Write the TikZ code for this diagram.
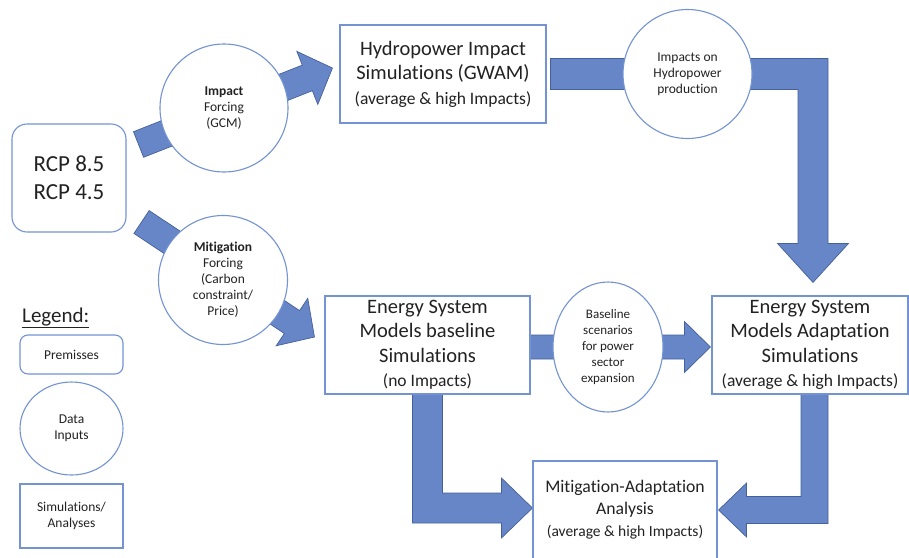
\documentclass[tikz,border=0pt]{standalone}
\usepackage{fontspec}
\setmainfont{Carlito}[Ligatures=NoCommon]
\usetikzlibrary{shapes.geometric,calc,backgrounds}
\definecolor{arrowfill}{HTML}{6786C7}
\definecolor{arrowline}{HTML}{45609A}
\definecolor{boxline}{HTML}{7393D3}
\definecolor{txt}{HTML}{222222}

% straight block arrow: tail, tip, half shaft width, half head width, head length
\newcommand{\fatarrow}[5]{%
  \coordinate (fa-c) at ($(#2)!#5!(#1)$);
  \draw[fatarr] ($(#1)!#3!-90:(#2)$) -- ($(fa-c)!#3!-90:(#2)$) -- ($(fa-c)!#4!-90:(#2)$)
    -- (#2) -- ($(fa-c)!#4!90:(#2)$) -- ($(fa-c)!#3!90:(#2)$) -- ($(#1)!#3!90:(#2)$) -- cycle;
}

\begin{document}
\begin{tikzpicture}[x=1pt, y=-1pt,
    fatarr/.style={fill=arrowfill, draw=arrowline, line width=0.7pt, line join=miter},
    simbox/.style={rectangle, draw=boxline, line width=1.1pt, fill=white, inner sep=0pt, text=txt, align=center},
    premise/.style={simbox, rounded corners=8pt},
    datacirc/.style={simbox, circle, font=\fontsize{13.5}{16}\selectfont},
    dataell/.style={simbox, ellipse, font=\fontsize{13.5}{16}\selectfont},
    bigtxt/.style={font=\fontsize{20.5}{24.5}\selectfont}]
  \useasboundingbox (0,0) rectangle (909,557);

  % premisses and data inputs
  \node[premise, rounded corners=15pt, minimum width=114pt, minimum height=108pt,
    font=\fontsize{23}{28}\selectfont] (rcp) at (69,178) {RCP 8.5\\RCP 4.5};
  \node[datacirc, minimum size=128pt] (impact) at (224,108) {\textbf{Impact}\\Forcing\\(GCM)};
  \node[datacirc, minimum size=129pt] (mitig) at (223,280)
    {\textbf{Mitigation}\\Forcing\\(Carbon\\constraint/\\Price)};
  \node[datacirc, minimum size=129pt] (hpprod) at (687.5,74) {Impacts on\\Hydropower\\production};
  \node[dataell, minimum width=110pt, minimum height=130pt, font=\fontsize{13}{16}\selectfont] (bscen)
    at (608,347) {Baseline\\scenarios\\for power\\sector\\expansion};

  % simulations
  \node[simbox, bigtxt, minimum width=206pt, minimum height=98pt] (hydro) at (443,74)
    {Hydropower Impact\\Simulations (GWAM)\\{\fontsize{17.5}{21}\selectfont(average \& high Impacts)}};
  \node[simbox, bigtxt, minimum width=205pt, minimum height=98pt] (base) at (427.5,345)
    {Energy System\\Models baseline\\Simulations\\{\fontsize{17.5}{21}\selectfont(no Impacts)}};
  \node[simbox, bigtxt, minimum width=196pt, minimum height=98pt] (adapt) at (810,345)
    {Energy System\\Models Adaptation\\Simulations\\{\fontsize{17.5}{21}\selectfont(average \& high Impacts)}};
  \node[simbox, minimum width=184pt, minimum height=98pt, font=\fontsize{17.7}{22}\selectfont] (ma) at (625,510)
    {Mitigation-Adaptation\\Analysis\\{\fontsize{15.5}{20}\selectfont(average \& high Impacts)}};

  % legend
  \node[anchor=base west, inner sep=0pt, text=txt, font=\fontsize{21}{25}\selectfont] (legend) at (22,322)
    {\underline{Legend:}};
  \node[premise, minimum width=103pt, minimum height=39pt, font=\fontsize{13.5}{16}\selectfont] (prem)
    at (71.5,354.5) {Premisses};
  \node[dataell, minimum width=103pt, minimum height=93pt] (datain) at (71.5,428.5) {Data\\Inputs};
  \node[simbox, minimum width=103pt, minimum height=64pt, font=\fontsize{13.5}{16}\selectfont] (simana)
    at (71.5,516) {Simulations/\\Analyses};

  \begin{scope}[on background layer]
    % forcing arrows
    \coordinate (ia0) at ($(rcp.east)+(12,-33.5)$);
    \coordinate (ia1) at ($(hydro.west)+(-7,-6)$);
    \fatarrow{ia0}{ia1}{13.75pt}{28.5pt}{27pt}
    \coordinate (ma0) at ($(rcp.east)+(15,44)$);
    \coordinate (ma1) at ($(base.west)+(-10,-8)$);
    \fatarrow{ma0}{ma1}{13.75pt}{28.5pt}{27pt}
    % baseline -> adaptation
    \coordinate (ba0) at ($(base.east)+(0,2)$);
    \coordinate (ba1) at ($(adapt.west)+(-1,2)$);
    \fatarrow{ba0}{ba1}{12pt}{25.5pt}{26pt}

    % hydropower -> adaptation
    \coordinate (h0) at ($(hydro.east)+(4,0)$);
    \coordinate (h1) at ($(adapt.north)+(3,-13)$);
    \coordinate (h2) at (h1 |- h0);
    \draw[fatarr] ($(h0)+(0,-15.5)$) -- ($(h2)+(15,-15.5)$) -- ($(h1)+(15,-39)$) -- ($(h1)+(35.5,-39)$)
      -- (h1) -- ($(h1)+(-35.5,-39)$) -- ($(h1)+(-15,-39)$) -- ($(h2)+(-15,15.5)$) -- ($(h0)+(0,15.5)$) -- cycle;
    % baseline -> analysis
    \coordinate (b0) at (base.south);
    \coordinate (b1) at ($(ma.west)+(0,-2)$);
    \coordinate (b2) at (b0 |- b1);
    \draw[fatarr] ($(b0)+(-15,0)$) -- ($(b2)+(-15,15)$) -- ($(b1)+(-31,15)$) -- ($(b1)+(-31,30)$)
      -- (b1) -- ($(b1)+(-31,-30)$) -- ($(b1)+(-31,-15)$) -- ($(b2)+(15,-15)$) -- ($(b0)+(15,0)$) -- cycle;
    % adaptation -> analysis
    \coordinate (a0) at ($(adapt.south)+(4.5,0)$);
    \coordinate (a1) at ($(ma.east)+(1,0)$);
    \coordinate (a2) at (a0 |- a1);
    \draw[fatarr] ($(a0)+(13.5,0)$) -- ($(a2)+(13.5,13.5)$) -- ($(a1)+(28,13.5)$) -- ($(a1)+(28,27)$)
      -- (a1) -- ($(a1)+(28,-27)$) -- ($(a1)+(28,-13.5)$) -- ($(a2)+(-13.5,-13.5)$) -- ($(a0)+(-13.5,0)$) -- cycle;
  \end{scope}
\end{tikzpicture}
\end{document}
